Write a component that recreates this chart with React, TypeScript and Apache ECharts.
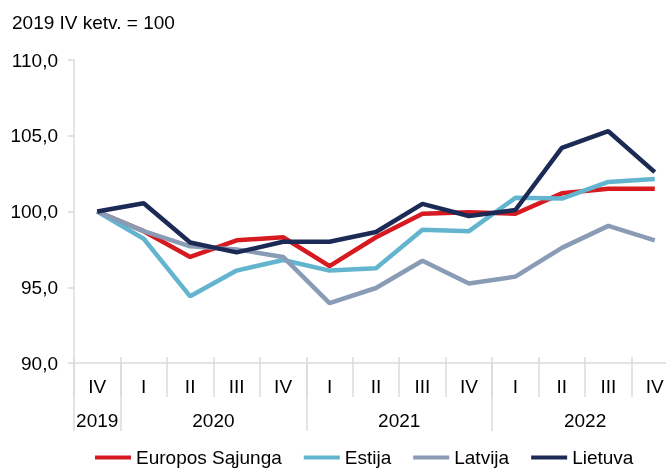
import React, { useEffect, useRef } from "react";
import * as echarts from "echarts";

const quarters = ["IV", "I", "II", "III", "IV", "I", "II", "III", "IV", "I", "II", "III", "IV"];
const years = ["2019", "2020", "2021", "2022"];
const yearSpans = [1, 4, 4, 4];

const seriesNames = ["Europos Sąjunga", "Estija", "Latvija", "Lietuva"];
const eu = [100, 98.7, 97.0, 98.1, 98.3, 96.4, 98.3, 99.85, 99.95, 99.85, 101.2, 101.5, 101.5];
const estija = [100, 98.2, 94.4, 96.1, 96.8, 96.1, 96.25, 98.8, 98.7, 100.9, 100.85, 101.95, 102.15];
const latvija = [100, 98.7, 97.7, 97.5, 97.0, 93.95, 94.95, 96.75, 95.25, 95.7, 97.6, 99.05, 98.1];
const lietuva = [100, 100.55, 97.95, 97.3, 98.0, 98.0, 98.65, 100.5, 99.7, 100.1, 104.2, 105.3, 102.6];
const colors = ["#d71920", "#63b5cf", "#8a9bb5", "#1c2a56"];
const titleText = "2019 IV ketv. = 100";

const FONT = "'Liberation Sans', Arial, sans-serif";
const AXIS_COLOR = "#dedadd";
const FS = 19;

export default function App() {
  const ref = useRef<HTMLDivElement>(null);
  useEffect(() => {
    document.body.style.margin = "0";
    const chart = echarts.init(ref.current!, undefined, { renderer: "svg" });

    const boundaries: number[] = [0];
    const centers: number[] = [];
    let acc = 0;
    yearSpans.forEach((s) => {
      centers.push(acc + s / 2);
      acc += s;
      boundaries.push(acc);
    });
    const yearAt = (v: number) => {
      const i = centers.findIndex((c) => Math.abs(c - v) < 1e-6);
      return i >= 0 ? years[i] : "";
    };

    const allData = [eu, estija, latvija, lietuva];

    chart.setOption({
      animation: false,
      textStyle: { fontFamily: FONT },
      title: {
        text: titleText,
        left: 12,
        top: 13,
        padding: 0,
        textStyle: { fontSize: FS, fontWeight: "normal", color: "#000", fontFamily: FONT },
      },
      grid: { left: 74, right: -12, top: 60, bottom: 107, outerBoundsMode: "none" },
      legend: {
        left: 95,
        top: 448,
        icon: "rect",
        itemWidth: 36,
        itemHeight: 4,
        itemGap: 22,
        padding: 0,
        textStyle: { fontSize: FS, color: "#000", fontFamily: FONT },
        data: seriesNames,
      },
      xAxis: [
        {
          type: "category",
          data: quarters,
          boundaryGap: true,
          axisLine: { show: true, lineStyle: { color: AXIS_COLOR, width: 1.5 } },
          axisTick: { show: true, interval: 0, length: 34, lineStyle: { color: AXIS_COLOR, width: 1.5 } },
          axisLabel: { interval: 0, fontSize: FS, color: "#000", margin: 14, fontFamily: FONT },
          splitLine: { show: false },
        },
        {
          type: "value",
          min: 0,
          max: quarters.length,
          position: "bottom",
          axisLine: { show: false },
          splitLine: { show: false },
          axisTick: {
            show: true,
            customValues: boundaries,
            length: 68,
            lineStyle: { color: AXIS_COLOR, width: 1.5 },
          },
          axisLabel: {
            show: true,
            customValues: centers,
            formatter: (v: number) => yearAt(v),
            fontSize: FS,
            color: "#000",
            margin: 48,
            fontFamily: FONT,
          },
        },
        {
          type: "category",
          data: quarters,
          boundaryGap: true,
          position: "bottom",
          axisLine: { show: false },
          axisTick: { show: true, inside: true, interval: 0, length: 6, lineStyle: { color: AXIS_COLOR, width: 1.5 } },
          axisLabel: { show: false },
          splitLine: { show: false },
        },
      ],
      yAxis: {
        type: "value",
        min: 90,
        max: 110,
        interval: 5,
        axisLine: { show: true, lineStyle: { color: AXIS_COLOR, width: 1.5 } },
        axisTick: { show: true, length: 6, lineStyle: { color: AXIS_COLOR, width: 1.5 } },
        splitLine: { show: false },
        axisLabel: {
          fontSize: FS,
          color: "#000",
          margin: 16,
          fontFamily: FONT,
          formatter: (v: number) => v.toFixed(1).replace(".", ","),
        },
      },
      series: seriesNames.map((name, i) => ({
        name,
        type: "line",
        xAxisIndex: 0,
        data: allData[i],
        showSymbol: false,
        symbol: "none",
        color: colors[i],
        lineStyle: { width: 4.5, color: colors[i] },
        itemStyle: { color: colors[i] },
      })),
    });
    return () => chart.dispose();
  }, []);
  return (
    <div
      ref={ref}
      style={{ position: "fixed", left: 0, top: 0, width: 666, height: 470 }}
    />
  );
}
